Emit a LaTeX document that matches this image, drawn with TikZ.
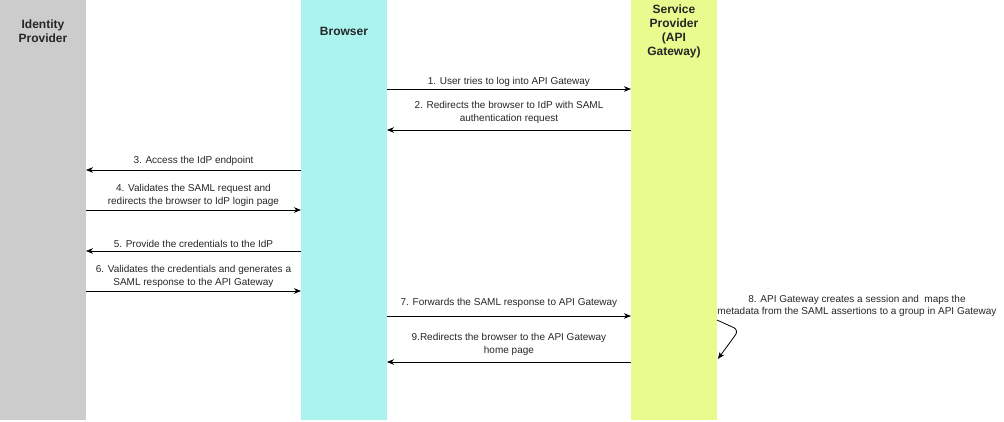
\documentclass[tikz,border=0pt]{standalone}
\usepackage{fontspec}
\setmainfont{Liberation Sans}
\usetikzlibrary{arrows.meta,positioning}
\definecolor{idpgray}{HTML}{CCCCCC}
\definecolor{browsercyan}{HTML}{AAF3EF}
\definecolor{spyellow}{HTML}{E9FA8E}
\begin{document}
\begin{tikzpicture}[x=1pt,y=-1pt,>={Stealth[length=7pt,width=5.5pt,inset=2pt]},
	lane/.style={draw=none,minimum width=85.5pt,minimum height=420pt,inner sep=0pt,anchor=north west},
	head/.style={font=\fontsize{12}{14}\selectfont\bfseries,align=center,text=black!85},
	msg/.style={font=\fontsize{10}{12.8}\selectfont,align=center,inner sep=0pt,text=black!85},
	call/.style={->,line width=0.8pt}]
	\useasboundingbox (0,0) rectangle (1004,421);
	%lanes
	\node[lane,fill=idpgray] (idp) at (0,0) {};
	\node[lane,fill=browsercyan] (brw) at (301,0) {};
	\node[lane,fill=spyellow] (sp) at (631,0) {};
	\node[head] (idph) at ([yshift=-31pt]idp.north) {Identity\\Provider};
	\node[head] (brwh) at ([yshift=-31pt]brw.north) {Browser};
	\node[head] (sph) at ([yshift=-31pt]sp.north) {Service\\Provider\\(API\\Gateway)};
	
	\coordinate (y1) at (0,89);
	\coordinate (y2) at (0,130);
	\coordinate (y3) at (0,170);
	\coordinate (y4) at (0,210);
	\coordinate (y5) at (0,251);
	\coordinate (y6) at (0,291);
	\coordinate (y7) at (0,316);
	\coordinate (y8) at (0,320);
	\coordinate (y9) at (0,362);
	\coordinate (bend8) at (739,330);
	\coordinate (end8) at (0,359);
	
	\draw[call] (brw.east |- y1) -- node[msg,above=2pt] {1. User tries to log into API Gateway} (sp.west |- y1);
	\draw[call] (sp.west |- y2) -- node[msg,above=6pt] {2. Redirects the browser to IdP with SAML\\authentication request} (brw.east |- y2);
	\draw[call] (brw.west |- y3) -- node[msg,above=4pt] {3. Access the IdP endpoint} (idp.east |- y3);
	\draw[call] (idp.east |- y4) -- node[msg,above=3pt] {4. Validates the SAML request and\\redirects the browser to IdP login page} (brw.west |- y4);
	\draw[call] (brw.west |- y5) -- node[msg,above=3pt] {5. Provide the credentials to the IdP} (idp.east |- y5);
	\draw[call] (idp.east |- y6) -- node[msg,above=3pt] {6. Validates the credentials and generates a\\SAML response to the API Gateway} (brw.west |- y6);
	\draw[call] (brw.east |- y7) -- node[msg,above=8pt] {7. Forwards the SAML response to API Gateway} (sp.west |- y7);
	\draw[call,rounded corners=6pt] (sp.east |- y8) -- (bend8) -- ([xshift=1pt]sp.east |- end8);
	\node[msg] (m8) at (857,306) {8. API Gateway creates a session and\ \ maps the\\metadata from the SAML assertions to a group in API Gateway};
	\draw[call] (sp.west |- y9) -- node[msg,above=6pt] {9.Redirects the browser to the API Gateway\\home page} (brw.east |- y9);
\end{tikzpicture}
\end{document}
